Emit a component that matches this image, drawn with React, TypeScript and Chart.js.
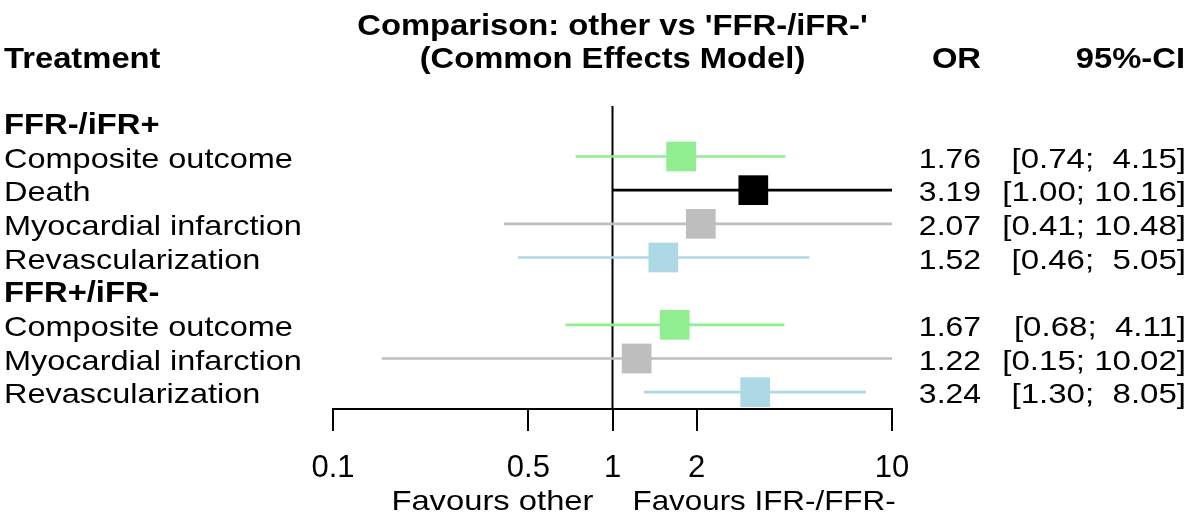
import React, { useEffect, useRef } from 'react';
import { Chart, registerables } from 'chart.js';

Chart.register(...registerables);

// ---- data ----
const groupLabels = ['FFR-/iFR+', 'FFR+/iFR-'];
const outcomeLabels = [
  'Composite outcome',
  'Death',
  'Myocardial infarction',
  'Revascularization',
  'Composite outcome',
  'Myocardial infarction',
  'Revascularization',
];
const outcomeGroups = [0, 0, 0, 0, 1, 1, 1];
const oddsRatios = [1.76, 3.19, 2.07, 1.52, 1.67, 1.22, 3.24];
const ciLower = [0.74, 1.0, 0.41, 0.46, 0.68, 0.15, 1.3];
const ciUpper = [4.15, 10.16, 10.48, 5.05, 4.11, 10.02, 8.05];
const tickValues = [0.1, 0.5, 1, 2, 10];
const tickLabels = ['0.1', '0.5', '1', '2', '10'];
const titleLines = ["Comparison: other vs 'FFR-/iFR-'", '(Common Effects Model)'];
const columnHeaders = ['Treatment', 'OR', '95%-CI'];
const favourLabels = ['Favours other', 'Favours IFR-/FFR-'];

// ---- styles ----
const outcomeColors: Record<string, string> = {
  'Composite outcome': '#90EE90',
  Death: '#000000',
  'Myocardial infarction': '#BEBEBE',
  Revascularization: '#ADD8E6',
};
const FAMILY = '"Liberation Sans", Arial, Helvetica, sans-serif';
const BOLD = `bold 29.5px ${FAMILY}`;
const REG = `28px ${FAMILY}`;
const BOLD_STRETCH = 1.11;
const REG_STRETCH = 1.16;
const OR_STRETCH = 1.14;
const CI_STRETCH = 1.18;

type Row = { kind: 'group' | 'item'; label: string; row: number; idx?: number };

function buildRows(): Row[] {
  const rows: Row[] = [];
  let r = 0;
  groupLabels.forEach((g, gi) => {
    rows.push({ kind: 'group', label: g, row: r++ });
    outcomeLabels.forEach((o, i) => {
      if (outcomeGroups[i] === gi) rows.push({ kind: 'item', label: o, row: r++, idx: i });
    });
  });
  return rows;
}

function fmt(v: number) {
  return v.toFixed(2);
}

function drawText(
  ctx: CanvasRenderingContext2D,
  s: string,
  x: number,
  y: number,
  font: string,
  align: CanvasTextAlign,
  stretch: number
) {
  ctx.save();
  ctx.font = font;
  ctx.fillStyle = '#000';
  ctx.textBaseline = 'alphabetic';
  ctx.textAlign = align;
  ctx.translate(x, y);
  ctx.scale(stretch, 1);
  ctx.fillText(s, 0, 0);
  ctx.restore();
}

export default function App() {
  const ref = useRef<HTMLCanvasElement | null>(null);

  useEffect(() => {
    if (!ref.current) return;
    const rows = buildRows();
    const itemRows = rows.filter((r) => r.kind === 'item');
    const nRows = rows.length;
    const maxUpperLen = Math.max(...ciUpper.map((v) => fmt(v).length));

    const outcomeNames = Array.from(new Set(outcomeLabels));
    const datasets: any[] = [];
    outcomeNames.forEach((name) => {
      const its = itemRows.filter((r) => r.label === name);
      datasets.push({
        type: 'bar',
        indexAxis: 'y',
        data: its.map((r) => ({ x: [ciLower[r.idx!], ciUpper[r.idx!]], y: r.row })),
        backgroundColor: outcomeColors[name],
        borderWidth: 0,
        barThickness: 2,
        grouped: false,
        order: 2,
      });
      datasets.push({
        type: 'scatter',
        data: its.map((r) => ({ x: oddsRatios[r.idx!], y: r.row })),
        pointStyle: 'rect',
        pointRadius: 21,
        pointHoverRadius: 21,
        backgroundColor: outcomeColors[name],
        borderWidth: 0,
        order: 1,
      });
    });

    const refLine = {
      id: 'refLine',
      beforeDatasetsDraw(chart: any) {
        const { ctx, chartArea } = chart;
        const x = chart.scales.x.getPixelForValue(1);
        ctx.save();
        ctx.strokeStyle = '#000';
        ctx.lineWidth = 2;
        ctx.beginPath();
        ctx.moveTo(x, chartArea.top);
        ctx.lineTo(x, chartArea.bottom);
        ctx.stroke();
        ctx.restore();
      },
    };

    const textPlugin = {
      id: 'forestText',
      afterDraw(chart: any) {
        const { ctx, chartArea } = chart;
        const ys = chart.scales.y;
        const xs = chart.scales.x;
        const cx = (chartArea.left + chartArea.right) / 2;
        drawText(ctx, titleLines[0], cx, 35, BOLD, 'center', BOLD_STRETCH);
        drawText(ctx, titleLines[1], cx, 68, BOLD, 'center', BOLD_STRETCH);
        drawText(ctx, columnHeaders[0], 4, 68, BOLD, 'left', BOLD_STRETCH);
        drawText(ctx, columnHeaders[1], 981, 68, BOLD, 'right', BOLD_STRETCH);
        drawText(ctx, columnHeaders[2], 1185, 68, BOLD, 'right', BOLD_STRETCH);
        rows.forEach((r) => {
          const y = ys.getPixelForValue(r.row) + 11;
          if (r.kind === 'group') {
            drawText(ctx, r.label, 4, y, BOLD, 'left', BOLD_STRETCH);
          } else {
            const i = r.idx!;
            drawText(ctx, r.label, 4, y, REG, 'left', REG_STRETCH);
            drawText(ctx, fmt(oddsRatios[i]), 981, y, REG, 'right', OR_STRETCH);
            const up = fmt(ciUpper[i]).padStart(maxUpperLen, ' ');
            drawText(ctx, `[${fmt(ciLower[i])}; ${up}]`, 1186, y, REG, 'right', CI_STRETCH);
          }
        });
        const x1 = xs.getPixelForValue(1);
        drawText(ctx, favourLabels[0], x1 - 19, 510, REG, 'right', 1.17);
        drawText(ctx, favourLabels[1], x1 + 20, 510, REG, 'left', 1.12);
      },
    };

    const chart = new Chart(ref.current, {
      type: 'scatter',
      data: { datasets },
      options: {
        animation: false,
        responsive: false,
        devicePixelRatio: 1,
        events: [],
        layout: { autoPadding: false, padding: { left: 333, right: 307, top: 106, bottom: 0 } },
        plugins: { legend: { display: false }, tooltip: { enabled: false } },
        scales: {
          x: {
            type: 'logarithmic',
            position: 'bottom',
            min: 0.1,
            max: 10,
            offset: false,
            afterBuildTicks: (scale: any) => {
              scale.ticks = tickValues.map((v) => ({ value: v }));
            },
            afterFit: (scale: any) => {
              scale.height = 116;
            },
            ticks: {
              autoSkip: false,
              maxRotation: 0,
              padding: 19,
              color: '#000',
              font: { family: FAMILY, size: 31 },
              callback: (_v: any, i: number) => tickLabels[i],
            },
            grid: { drawOnChartArea: false, offset: false, tickLength: 22, color: '#000', lineWidth: 2 },
            border: { display: true, color: '#000', width: 2 },
          },
          y: {
            type: 'linear',
            display: false,
            reverse: true,
            offset: false,
            beginAtZero: false,
            grid: { offset: false },
            min: -0.5,
            max: nRows - 0.5,
          },
        },
      },
      plugins: [refLine, textPlugin],
    } as any);
    return () => chart.destroy();
  }, []);

  return (
    <div style={{ position: 'absolute', left: 0, top: 0, width: 1199, height: 525, background: '#fff' }}>
      <canvas ref={ref} width={1199} height={525} />
    </div>
  );
}
